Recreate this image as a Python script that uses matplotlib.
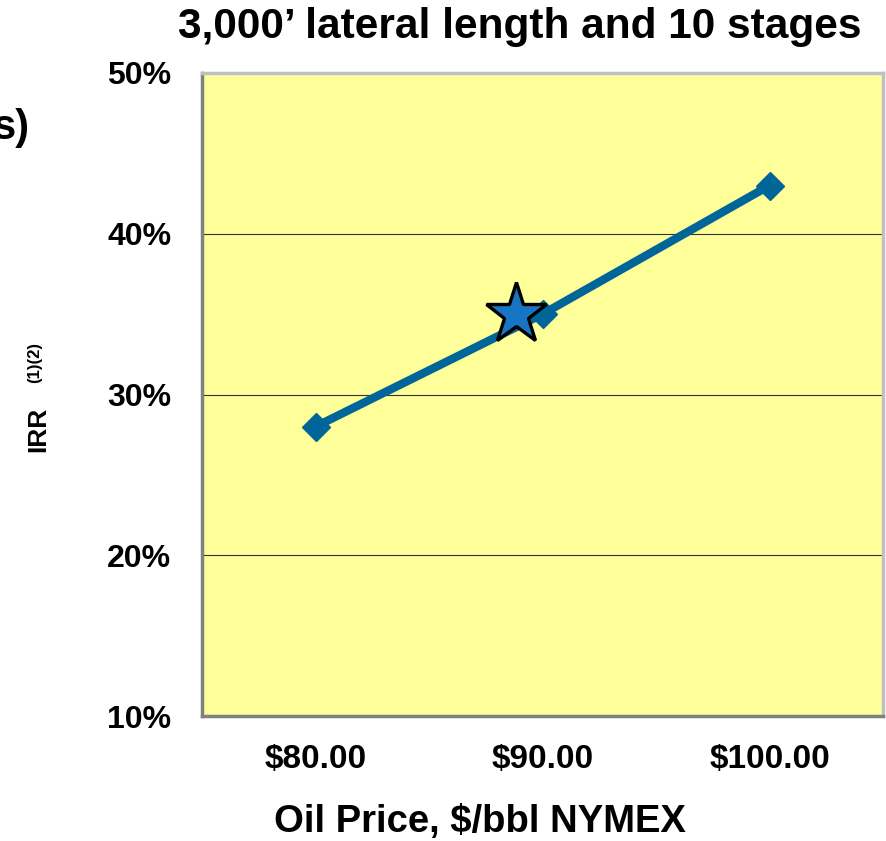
import matplotlib
matplotlib.use("Agg")
import matplotlib.pyplot as plt
from matplotlib.ticker import FuncFormatter

plt.rcParams['font.family'] = ['Liberation Sans', 'DejaVu Sans']
plt.rcParams['font.weight'] = 'bold'

# data
oil_price = [80, 90, 100]
irr = [28, 35, 43]
price_labels = ['$80.00', '$90.00', '$100.00']
star_price = [88.85]
star_irr = [35]
y_ticks = [10, 20, 30, 40, 50]

fig = plt.figure(figsize=(8.87, 8.41), dpi=100)
ax = fig.add_axes([202 / 887, 1 - 716 / 841, 681 / 887, 643 / 841])
ax.set_facecolor('#ffff99')

ax.plot(oil_price, irr, color='#006699', lw=6, marker='D', ms=14,
        solid_capstyle='butt', zorder=3)
ax.plot(star_price, star_irr, marker='*', ms=46, color='#1874c4',
        markeredgecolor='black', markeredgewidth=2.4, ls='none', zorder=4)

ax.set_xlim(75, 105)
ax.set_ylim(10, 50)
ax.set_xticks(oil_price)
ax.set_xticklabels(price_labels)
ax.set_yticks(y_ticks)
ax.yaxis.set_major_formatter(FuncFormatter(lambda v, p: f'{v:.0f}%'))
ax.tick_params(length=0)
ax.tick_params(axis='y', pad=22, labelsize=23)
ax.tick_params(axis='x', pad=20, labelsize=24)

for v in y_ticks[1:-1]:
    ax.axhline(v, color='#333333', lw=0.8, zorder=1)

ax.spines['left'].set_color('#808080')
ax.spines['bottom'].set_color('#808080')
ax.spines['top'].set_color('#c0c0c0')
ax.spines['right'].set_color('#c0c0c0')
for s in ax.spines.values():
    s.set_linewidth(2.5)

# x label sits left of the axes centre in the original
fig.text(480 / 887, 1 - 822 / 841, 'Oil Price, \\$/bbl NYMEX',
         ha='center', va='center', fontsize=27.5, fontweight='bold')

fig.text(520 / 887, 1 - 27 / 841, '3,000\u2019 lateral length and 10 stages',
         ha='center', va='center', fontsize=30.5, fontweight='bold')
fig.text(38 / 887, 1 - 452 / 841, 'IRR', rotation=90, ha='center',
         va='bottom', fontsize=19, fontweight='bold')
fig.text(35 / 887, 1 - 383 / 841, '(1)(2)', rotation=90, ha='center',
         va='bottom', fontsize=12, fontweight='bold')
fig.text(-8 / 887, 1 - 128 / 841, 's)', ha='left', va='center',
         fontsize=30, fontweight='bold')

fig.savefig('out.png', dpi=100)
